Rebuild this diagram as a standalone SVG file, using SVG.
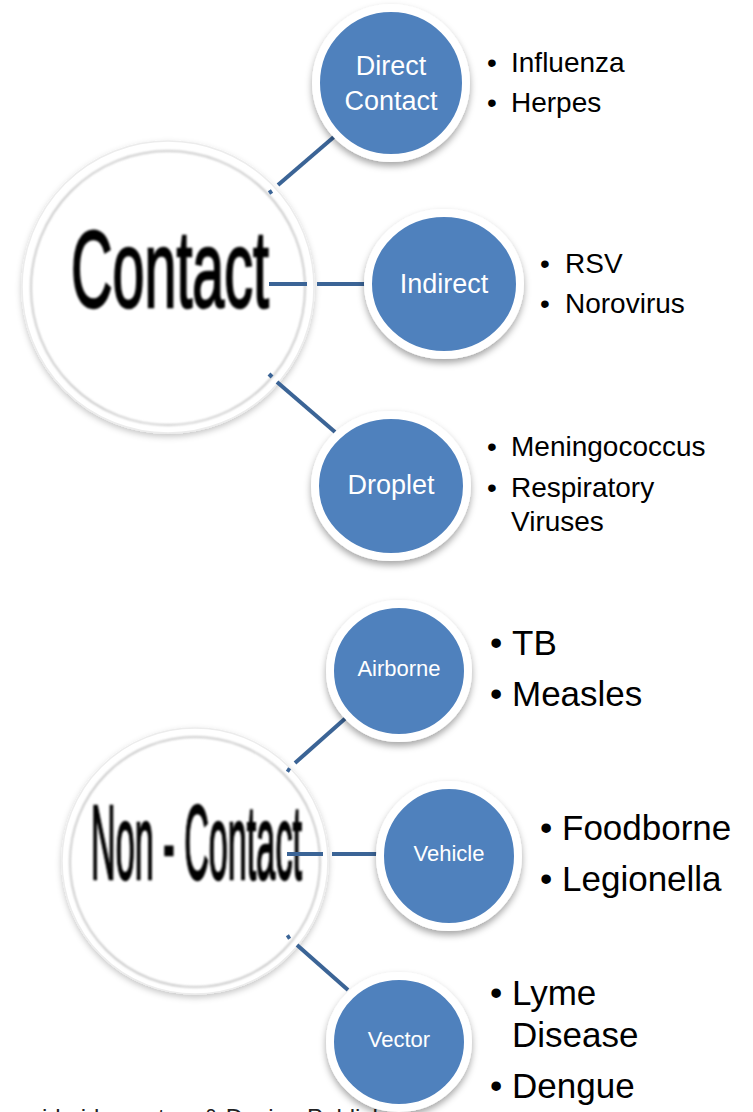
<svg xmlns="http://www.w3.org/2000/svg" width="753" height="1112" viewBox="0 0 753 1112">
<defs>
<filter id="sh" x="-20%" y="-20%" width="140%" height="150%">
<feDropShadow dx="0" dy="4" stdDeviation="3.5" flood-color="#000" flood-opacity="0.35"/>
</filter>
<filter id="shl" x="-10%" y="-10%" width="120%" height="125%">
<feDropShadow dx="0" dy="3" stdDeviation="3" flood-color="#000" flood-opacity="0.22"/>
</filter>
<filter id="inner" x="-10%" y="-10%" width="120%" height="120%">
<feGaussianBlur stdDeviation="1.2"/>
</filter>
<filter id="soft"><feGaussianBlur stdDeviation="0.8"/></filter>
<style>
.big{fill:#fff;stroke:#ececec;stroke-width:1.5}
.ring{fill:none;stroke:#bdbdbd;stroke-width:1.5}
.node{fill:#4f81bd;stroke:#fff;stroke-width:8}
.lbl{font-family:"Liberation Sans",Arial,sans-serif;fill:#fff;text-anchor:middle}
.bigt{font-family:"Liberation Sans",Arial,sans-serif;fill:#000;stroke:#000;stroke-width:2.5}
.item{font-family:"Liberation Sans",Arial,sans-serif;font-size:28px;fill:#000}
.item2{font-family:"Liberation Sans",Arial,sans-serif;font-size:35px;fill:#000}
.con{stroke:#3b6496;stroke-width:4;fill:none}
.foot{font-family:"Liberation Sans",Arial,sans-serif;font-size:24px;fill:#222}
</style>
</defs>
<rect width="753" height="1112" fill="#fff"/>

<g id="footer">
<text class="foot" x="42" y="1126">ide ideas at</text>
<text class="foot" x="203" y="1126">&amp; Design Publishing</text>
</g>

<g id="contact">
<circle class="big" cx="168" cy="287" r="146" filter="url(#shl)"/>
<circle class="ring" cx="168" cy="288" r="137" filter="url(#inner)"/>
<text class="bigt" x="71" y="307" font-size="110" textLength="198" lengthAdjust="spacingAndGlyphs" filter="url(#soft)">Contact</text>
</g>

<g id="noncontact">
<circle class="big" cx="195" cy="861" r="133" filter="url(#shl)"/>
<circle class="ring" cx="195" cy="862" r="125" filter="url(#inner)"/>
<text class="bigt" x="91" y="879" font-size="106" textLength="211" lengthAdjust="spacingAndGlyphs" filter="url(#soft)">Non - Contact</text>
</g>

<g id="connectors">
<line class="con" x1="269" y1="193" x2="272" y2="191"/>
<line class="con" x1="278" y1="185" x2="335" y2="136"/>
<line class="con" x1="269" y1="284" x2="307" y2="284"/>
<line class="con" x1="317" y1="284" x2="370" y2="284"/>
<line class="con" x1="269" y1="374" x2="272" y2="377"/>
<line class="con" x1="277" y1="382" x2="335" y2="432"/>
<line class="con" x1="287" y1="769" x2="290" y2="771"/>
<line class="con" x1="295" y1="763" x2="348" y2="716"/>
<line class="con" x1="287" y1="854" x2="323" y2="854"/>
<line class="con" x1="332" y1="854" x2="385" y2="854"/>
<line class="con" x1="287" y1="938" x2="290" y2="936"/>
<line class="con" x1="297" y1="945" x2="348" y2="990"/>
</g>

<g id="direct">
<ellipse class="node" cx="391" cy="83" rx="75" ry="75" filter="url(#sh)"/>
<text class="lbl" x="391" y="75" font-size="27">Direct</text>
<text class="lbl" x="391" y="110" font-size="27">Contact</text>
</g>
<g id="indirect">
<ellipse class="node" cx="444" cy="284" rx="76" ry="71" filter="url(#sh)"/>
<text class="lbl" x="444" y="293" font-size="27">Indirect</text>
</g>
<g id="droplet">
<ellipse class="node" cx="391" cy="486" rx="76" ry="71" filter="url(#sh)"/>
<text class="lbl" x="391" y="494" font-size="27">Droplet</text>
</g>
<g id="airborne">
<ellipse class="node" cx="399" cy="671" rx="69" ry="67" filter="url(#sh)"/>
<text class="lbl" x="399" y="676" font-size="22">Airborne</text>
</g>
<g id="vehicle">
<ellipse class="node" cx="449" cy="856" rx="69" ry="71" filter="url(#sh)"/>
<text class="lbl" x="449" y="861" font-size="22">Vehicle</text>
</g>
<g id="vector">
<ellipse class="node" cx="399" cy="1042" rx="69" ry="66" filter="url(#sh)"/>
<text class="lbl" x="399" y="1047" font-size="22">Vector</text>
</g>

<g id="list-direct">
<text class="item" y="72"><tspan x="487">•</tspan><tspan x="511">Influenza</tspan></text>
<text class="item" y="112"><tspan x="487">•</tspan><tspan x="511">Herpes</tspan></text>
</g>
<g id="list-indirect">
<text class="item" y="273"><tspan x="540">•</tspan><tspan x="565">RSV</tspan></text>
<text class="item" y="313"><tspan x="540">•</tspan><tspan x="565">Norovirus</tspan></text>
</g>
<g id="list-droplet">
<text class="item" y="456"><tspan x="487">•</tspan><tspan x="511">Meningococcus</tspan></text>
<text class="item" y="497"><tspan x="487">•</tspan><tspan x="511">Respiratory</tspan></text>
<text class="item" x="511" y="531">Viruses</text>
</g>
<g id="list-airborne">
<text class="item2" y="655"><tspan x="490">•</tspan><tspan x="512">TB</tspan></text>
<text class="item2" y="706"><tspan x="490">•</tspan><tspan x="512">Measles</tspan></text>
</g>
<g id="list-vehicle">
<text class="item2" y="840"><tspan x="540">•</tspan><tspan x="562">Foodborne</tspan></text>
<text class="item2" y="891"><tspan x="540">•</tspan><tspan x="562">Legionella</tspan></text>
</g>
<g id="list-vector">
<text class="item2" y="1005"><tspan x="490">•</tspan><tspan x="512">Lyme</tspan></text>
<text class="item2" x="512" y="1047">Disease</text>
<text class="item2" y="1098"><tspan x="490">•</tspan><tspan x="512">Dengue</tspan></text>
</g>
</svg>
